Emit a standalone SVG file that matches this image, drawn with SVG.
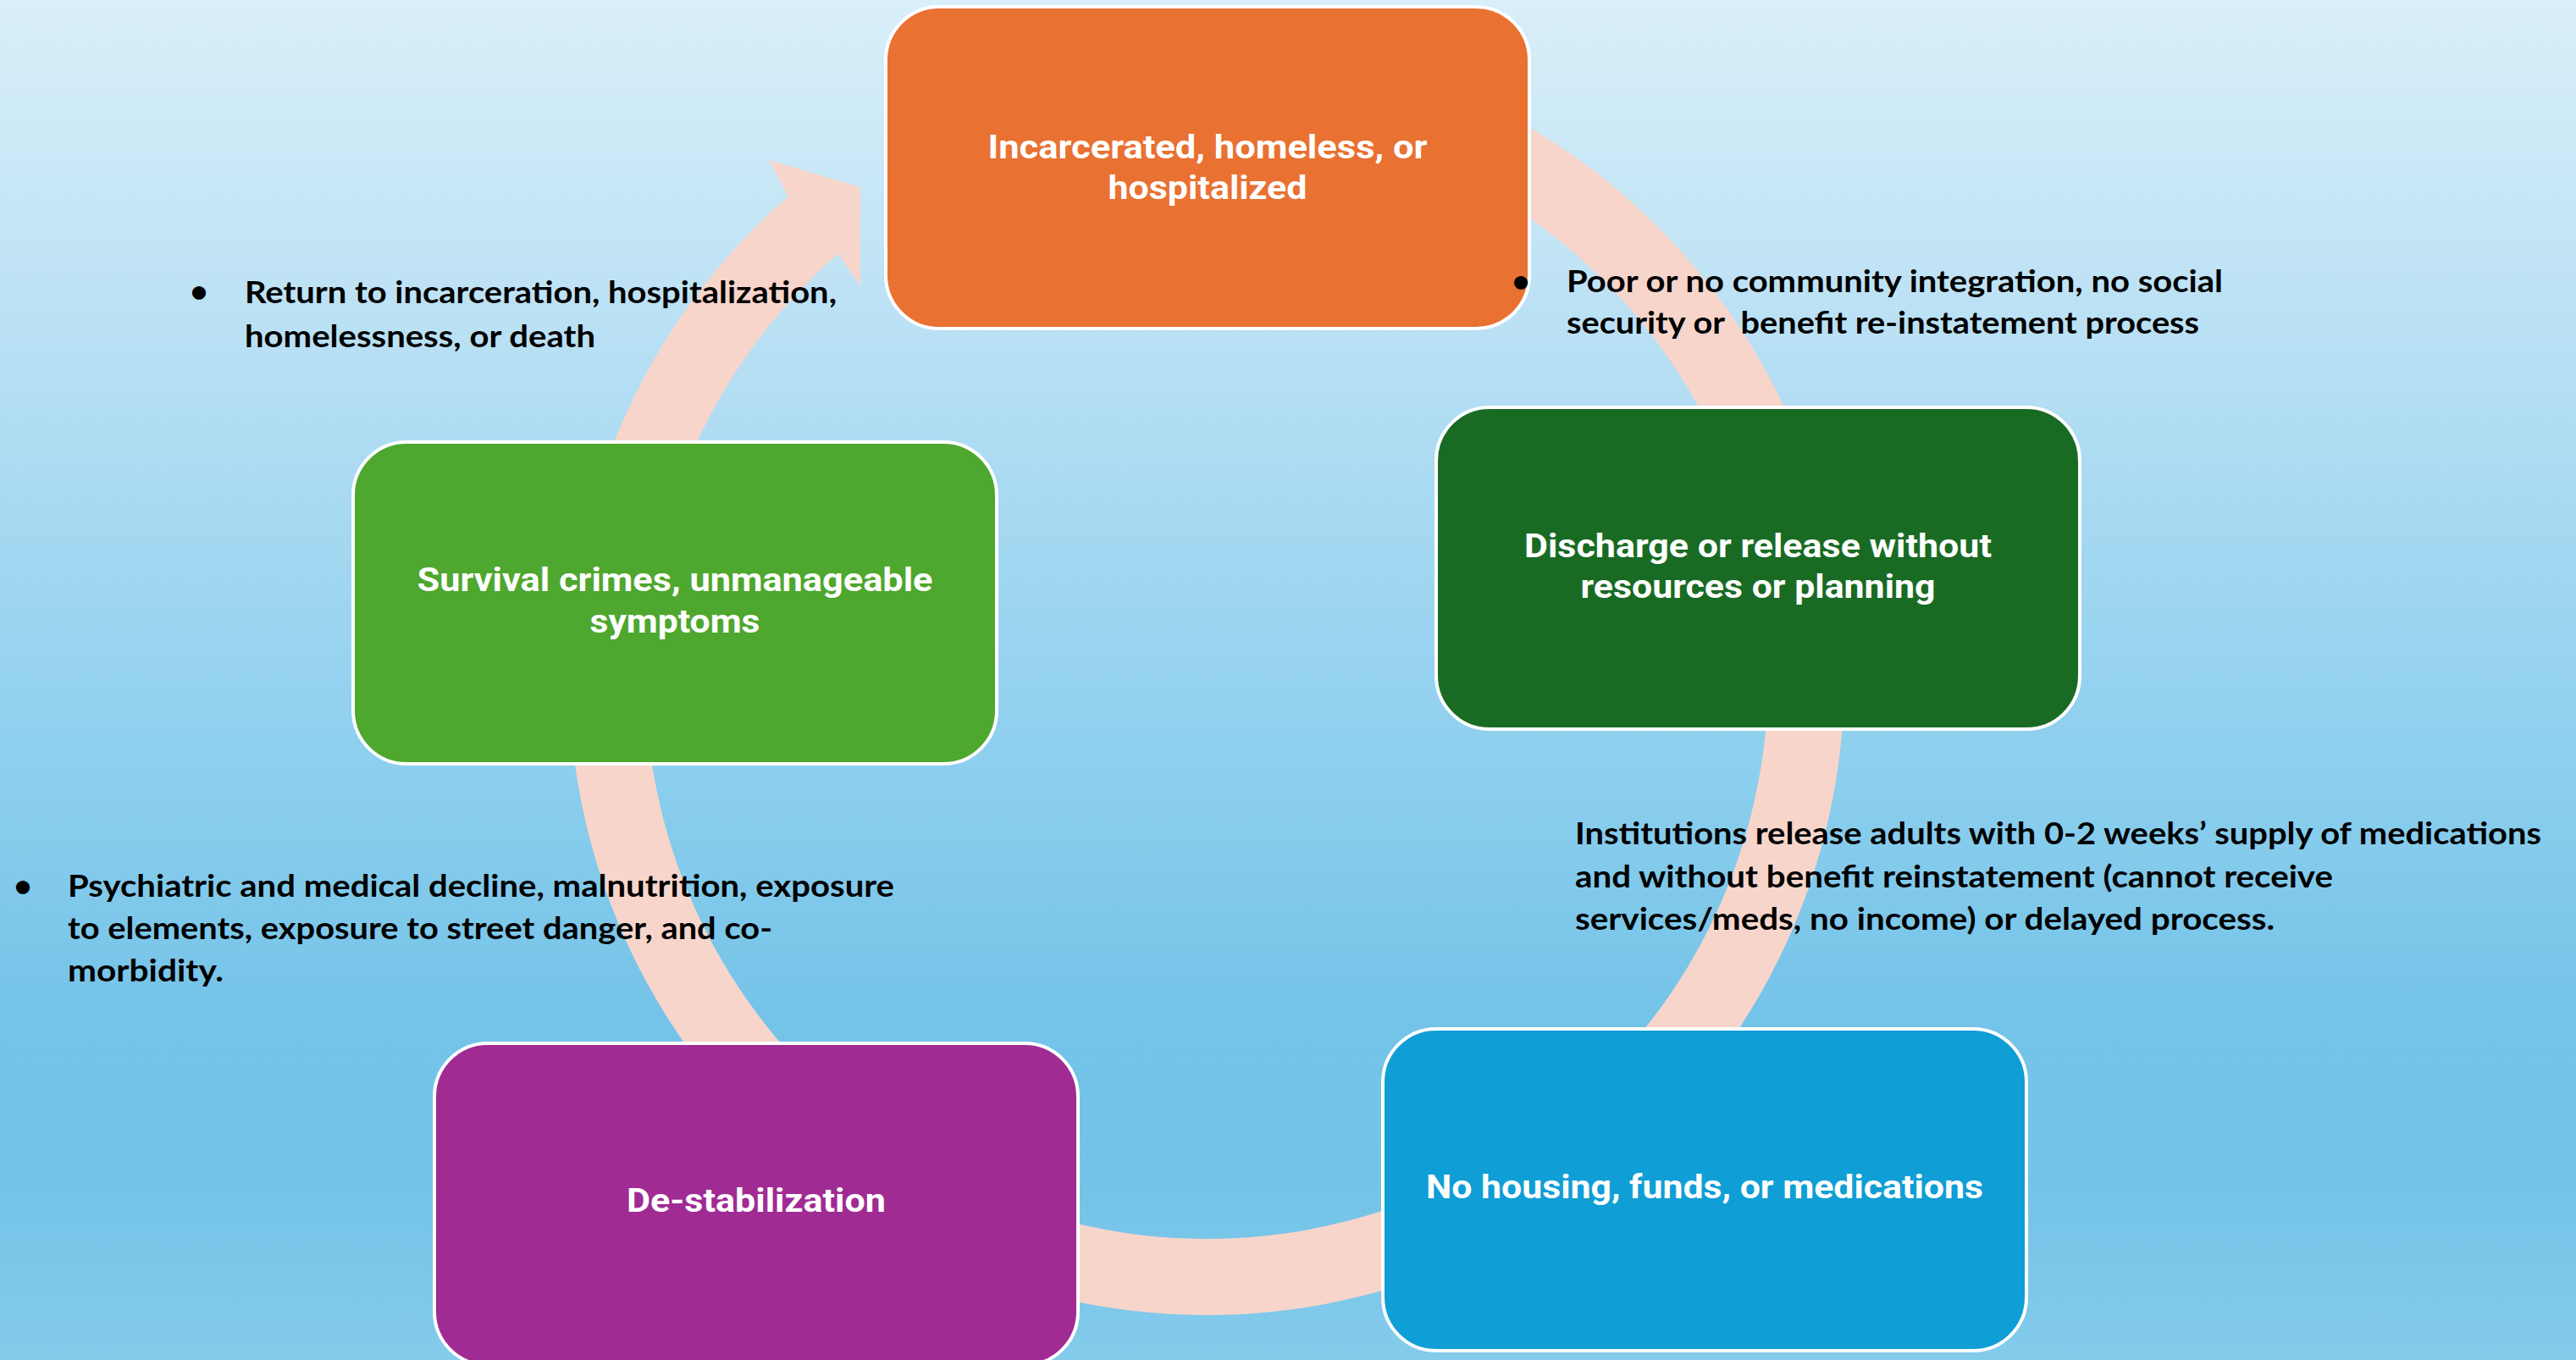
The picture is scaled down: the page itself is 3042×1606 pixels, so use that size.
<svg xmlns="http://www.w3.org/2000/svg" width="3042" height="1606" viewBox="0 0 3042 1606">
  <defs>
    <linearGradient id="sky" x1="0" y1="0" x2="0" y2="1">
      <stop offset="0" stop-color="#d9eff9"/>
      <stop offset="0.25" stop-color="#b9e0f4"/>
      <stop offset="0.56" stop-color="#8dcfee"/>
      <stop offset="0.75" stop-color="#74c3e8"/>
      <stop offset="0.87" stop-color="#73c3e8"/>
      <stop offset="1" stop-color="#84cbeb"/>
    </linearGradient>
    <style>
      .box { stroke: #ffffff; stroke-width: 4; }
      .lbl { font-family: Roboto, "Liberation Sans", sans-serif; font-weight: 700; font-size: 38px; fill: #ffffff; text-anchor: middle; }
      .note { font-family: Lato, "Liberation Sans", sans-serif; font-weight: 700; font-size: 37px; fill: #000000; white-space: pre; }
      .dot { text-anchor: middle; }
      .ring { fill: #f7d5cb; }
    </style>
  </defs>

  <!-- background -->
  <rect x="0" y="0" width="3042" height="1606" fill="url(#sky)"/>

  <!-- circular cycle arrow behind the boxes -->
  <g id="connectors">
    <path class="ring" d="M 1682.5 92.4 A 753 753 0 1 1 931 231.7 L 908 189 L 1016 221 L 1016 338 L 990 299.6 A 663 663 0 1 0 1651.8 177 Z"/>
  </g>

  <!-- cycle stages -->
  <g id="incarcerated">
    <rect class="box" x="1046" y="8" width="760" height="380" rx="63" ry="63" fill="#e97132"/>
    <text class="lbl" x="1426" y="187" textLength="519" lengthAdjust="spacingAndGlyphs">Incarcerated, homeless, or</text>
    <text class="lbl" x="1426" y="235" textLength="235" lengthAdjust="spacingAndGlyphs">hospitalized</text>
  </g>

  <g id="discharge">
    <rect class="box" x="1696" y="481" width="760" height="380" rx="63" ry="63" fill="#196b24"/>
    <text class="lbl" x="2076" y="658" textLength="552" lengthAdjust="spacingAndGlyphs">Discharge or release without</text>
    <text class="lbl" x="2076" y="706" textLength="419" lengthAdjust="spacingAndGlyphs">resources or planning</text>
  </g>

  <g id="no-housing">
    <rect class="box" x="1633" y="1215" width="760" height="380" rx="63" ry="63" fill="#0f9ed5"/>
    <text class="lbl" x="2013" y="1415" textLength="658" lengthAdjust="spacingAndGlyphs">No housing, funds, or medications</text>
  </g>

  <g id="destabilization">
    <rect class="box" x="513" y="1232" width="760" height="380" rx="63" ry="63" fill="#a02b93"/>
    <text class="lbl" x="893" y="1431" textLength="306" lengthAdjust="spacingAndGlyphs">De-stabilization</text>
  </g>

  <g id="survival">
    <rect class="box" x="417" y="522" width="760" height="380" rx="63" ry="63" fill="#4ea72e"/>
    <text class="lbl" x="797" y="698" textLength="609" lengthAdjust="spacingAndGlyphs">Survival crimes, unmanageable</text>
    <text class="lbl" x="797" y="747" textLength="201" lengthAdjust="spacingAndGlyphs">symptoms</text>
  </g>

  <!-- annotations between stages -->
  <g id="note-return">
    <text class="note dot" x="235" y="357">•</text>
    <text class="note" x="289" y="358" textLength="699" lengthAdjust="spacingAndGlyphs">Return to incarceration, hospitalization,</text>
    <text class="note" x="289" y="410" textLength="414" lengthAdjust="spacingAndGlyphs">homelessness, or death</text>
  </g>

  <g id="note-integration">
    <text class="note dot" x="1796" y="345">•</text>
    <text class="note" x="1850" y="345" textLength="775" lengthAdjust="spacingAndGlyphs">Poor or no community integration, no social</text>
    <text class="note" x="1850" y="394" textLength="747" lengthAdjust="spacingAndGlyphs">security or  benefit re-instatement process</text>
  </g>

  <g id="note-institutions">
    <text class="note" x="1860" y="997" textLength="1141" lengthAdjust="spacingAndGlyphs">Institutions release adults with 0-2 weeks’ supply of medications</text>
    <text class="note" x="1860" y="1048" textLength="895" lengthAdjust="spacingAndGlyphs">and without benefit reinstatement (cannot receive</text>
    <text class="note" x="1860" y="1098" textLength="826" lengthAdjust="spacingAndGlyphs">services/meds, no income) or delayed process.</text>
  </g>

  <g id="note-decline">
    <text class="note dot" x="27" y="1059">•</text>
    <text class="note" x="80" y="1059" textLength="976" lengthAdjust="spacingAndGlyphs">Psychiatric and medical decline, malnutrition, exposure</text>
    <text class="note" x="80" y="1109" textLength="832" lengthAdjust="spacingAndGlyphs">to elements, exposure to street danger, and co-</text>
    <text class="note" x="80" y="1159" textLength="184" lengthAdjust="spacingAndGlyphs">morbidity.</text>
  </g>
</svg>
